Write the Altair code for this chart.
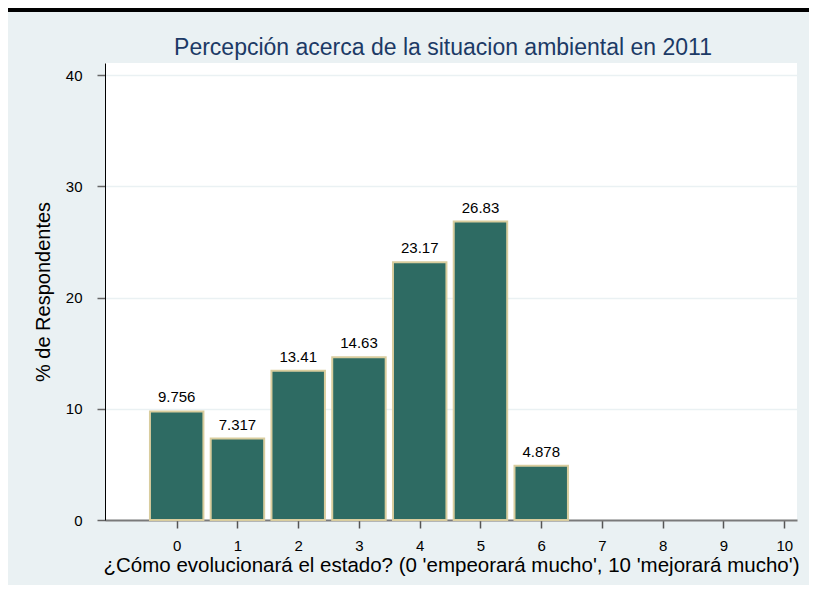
import altair as alt
import pandas as pd

# Data
categories = [0, 1, 2, 3, 4, 5, 6]
percent = [9.756, 7.317, 13.41, 14.63, 23.17, 26.83, 4.878]
bar_labels = ["9.756", "7.317", "13.41", "14.63", "23.17", "26.83", "4.878"]
x_ticks = [0, 1, 2, 3, 4, 5, 6, 7, 8, 9, 10]
y_ticks = [0, 10, 20, 30, 40]

title_text = "Percepción acerca de la situacion ambiental en 2011"
x_title = "¿Cómo evolucionará el estado? (0 'empeorará mucho', 10 'mejorará mucho')"
y_title = "% de Respondentes"

df = pd.DataFrame({"cat": categories, "pct": percent, "lbl": bar_labels})

FONT = "Liberation Sans"
PANEL = "#EAF1F3"

x_scale = alt.Scale(domain=[-1.18, 10.21], nice=False, zero=False)
y_scale = alt.Scale(domain=[0, 41.08], nice=False)

base = alt.Chart(df).transform_calculate(
    lo="datum.cat - 0.44", hi="datum.cat + 0.44"
)

bars = base.mark_bar(fill="#2E6B63", stroke="#D9CD9E", strokeWidth=2).encode(
    x=alt.X(
        "lo:Q",
        scale=x_scale,
        axis=alt.Axis(
            values=x_ticks,
            format="d",
            title=x_title,
            grid=False,
            domainColor="#7a7a7a",
            domainWidth=2,
            tickColor="#555555",
            tickSize=8,
            tickWidth=1.5,
            labelPadding=10,
            labelFontSize=15,
            labelFont=FONT,
            labelColor="#000000",
            titleFont=FONT,
            titleFontSize=20.5,
            titleFontWeight="normal",
            titleColor="#000000",
            titlePadding=2,
        ),
    ),
    x2="hi:Q",
    y=alt.Y(
        "pct:Q",
        scale=y_scale,
        axis=alt.Axis(
            values=y_ticks,
            format="d",
            title=y_title,
            grid=True,
            gridColor=PANEL,
            gridWidth=1.5,
            domainColor="#000000",
            domainWidth=1,
            tickColor="#666666",
            tickSize=8,
            tickWidth=1.5,
            labelPadding=15,
            labelFontSize=15,
            labelFont=FONT,
            labelColor="#000000",
            titleFont=FONT,
            titleFontSize=20,
            titleFontWeight="normal",
            titleColor="#000000",
            titlePadding=12,
        ),
    ),
    y2=alt.datum(0),
)

labels = base.mark_text(
    baseline="alphabetic", dy=-9, fontSize=15, font=FONT, color="#000000"
).encode(
    x=alt.X("cat:Q", scale=x_scale),
    y=alt.Y("pct:Q", scale=y_scale),
    text="lbl:N",
)

top_line = alt.Chart(df).mark_rule(color="#000000", strokeWidth=3).encode(
    x=alt.value(-97), x2=alt.value(704), y=alt.value(-53)
)

chart = (
    alt.layer(bars, labels, top_line)
    .properties(
        width=692,
        height=457,
        title=alt.TitleParams(
            title_text,
            fontSize=23,
            font=FONT,
            fontWeight="normal",
            color="#1C3A66",
            anchor="middle",
            baseline="alphabetic",
            offset=-69,
            dx=-8,
        ),
        autosize=alt.AutoSizeParams(type="none"),
        padding={"left": 97, "top": 55, "right": 12, "bottom": 65},
        background=PANEL,
    )
    .configure_view(stroke=None, fill="#ffffff")
)

chart.save("out.html", embed_options={"renderer": "svg", "actions": False})
